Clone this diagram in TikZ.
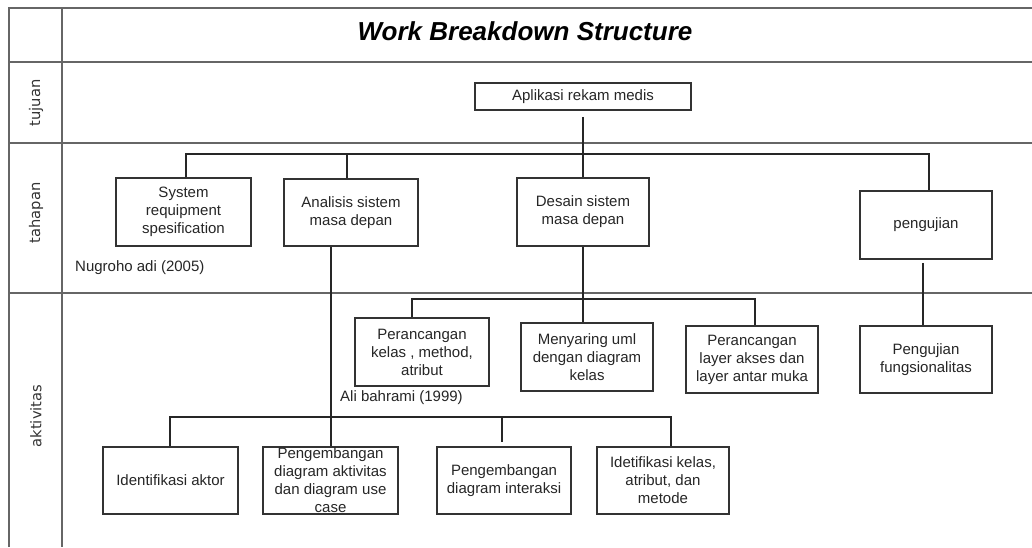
\documentclass[tikz,border=0pt]{standalone}
\usepackage{fontspec}
\setmainfont{Liberation Sans}
\newfontfamily\wbslabelfam{DejaVu Sans}
\newcommand\wbsbox{\fontsize{15}{18}\selectfont}
\newcommand\wbstitle{\fontsize{26}{30}\selectfont\bfseries\itshape}
\newcommand\wbslabel{\wbslabelfam\fontsize{14.7}{17}\selectfont}
\begin{document}
\begin{tikzpicture}[x=1pt,y=-1pt,
  frame/.style={draw=black!60, line width=1.8pt},
  wbox/.style={draw=black!80, line width=1.5pt, rectangle, inner sep=0pt,
    align=center, font=\wbsbox, text=black!85},
  conn/.style={draw=black!85, line width=1.5pt},
  plain/.style={inner sep=0pt, font=\wbsbox, text=black!85},
  rowlabel/.style={rotate=90, inner sep=0pt, font=\wbslabel, text=black!80}]
\useasboundingbox[fill=white] (0,0) rectangle (1032,547);

% frame
\draw[frame] (9,547) -- (9,8) -- (1032,8);
\draw[frame] (62,8) -- (62,547);
\draw[frame] (9,62) -- (1032,62);
\draw[frame] (9,143) -- (1032,143);
\draw[frame] (9,293) -- (1032,293);

% title and row labels
\node[inner sep=0pt, font=\wbstitle] (title) at (525,31) {Work Breakdown Structure};
\node[rowlabel] (ltujuan) at (36,103) {tujuan};
\node[rowlabel] (ltahapan) at (36,213) {tahapan};
\node[rowlabel] (laktivitas) at (36,416) {aktivitas};

% boxes
\node[wbox, minimum width=216, minimum height=27] (app) at (583,96.5) {Aplikasi rekam medis};

\node[wbox, minimum width=135, minimum height=68] (sys) at (183.5,212) {System\\requipment\\spesification};
\node[wbox, minimum width=134, minimum height=67] (ana) at (351,212.5) {Analisis sistem\\masa depan};
\node[wbox, minimum width=132, minimum height=68] (des) at (583,212) {Desain sistem\\masa depan};
\node[wbox, minimum width=132, minimum height=68] (pgj) at (926,225) {pengujian};

\node[wbox, minimum width=134, minimum height=68] (pkm) at (422,352) {Perancangan\\kelas , method,\\atribut};
\node[wbox, minimum width=132, minimum height=68] (myr) at (587,357) {Menyaring uml\\dengan diagram\\kelas};
\node[wbox, minimum width=132, minimum height=67] (pla) at (752,359.5) {Perancangan\\layer akses dan\\layer antar muka};
\node[wbox, minimum width=132, minimum height=67] (pgf) at (926,359.5) {Pengujian\\fungsionalitas};

\node[wbox, minimum width=135, minimum height=67] (ida) at (170.5,480.5) {Identifikasi aktor};
\node[wbox, minimum width=135, minimum height=67] (pda) at (330.5,480.5) {Pengembangan\\diagram aktivitas\\dan diagram use\\case};
\node[wbox, minimum width=134, minimum height=67] (pdi) at (504,480.5) {Pengembangan\\diagram interaksi};
\node[wbox, minimum width=132, minimum height=67] (ikl) at (663,480.5) {Idetifikasi kelas,\\atribut, dan\\metode};

% free texts
\node[plain, anchor=west] (nug) at (75,268) {Nugroho adi (2005)};
\node[plain, anchor=west] (ali) at (340,398) {Ali bahrami (1999)};

% bus coordinates
\coordinate (b1) at (0,154);
\coordinate (b2) at (0,299);
\coordinate (b3) at (0,417);

% connectors
\draw[conn] ([yshift=-6pt]app.south) -- (des.north);
\draw[conn] ([xshift=2.5pt]sys.north) -- ([xshift=2.5pt]sys.north |- b1) -- ([xshift=3pt]pgj.north |- b1) -- ([xshift=3pt]pgj.north);
\draw[conn] ([xshift=-4pt]ana.north) -- ([xshift=-4pt]ana.north |- b1);

\draw[conn] (des.south) -- (des.south |- myr.north);
\draw[conn] ([xshift=-10pt]pkm.north) -- ([xshift=-10pt]pkm.north |- b2) -- ([xshift=3pt]pla.north |- b2) -- ([xshift=3pt]pla.north);
\draw[conn] ([xshift=-3pt,yshift=-3pt]pgj.south) -- ([xshift=-3pt]pgf.north);

\draw[conn] ([xshift=0.5pt]pda.north |- ana.south) -- ([xshift=0.5pt]pda.north);
\draw[conn] ([xshift=-0.5pt]ida.north) -- ([xshift=-0.5pt]ida.north |- b3) -- ([xshift=8pt]ikl.north |- b3) -- ([xshift=8pt]ikl.north);
\draw[conn] ([xshift=-2pt]pdi.north |- b3) -- ([xshift=-2pt,yshift=4pt]pdi.north);
\end{tikzpicture}
\end{document}
